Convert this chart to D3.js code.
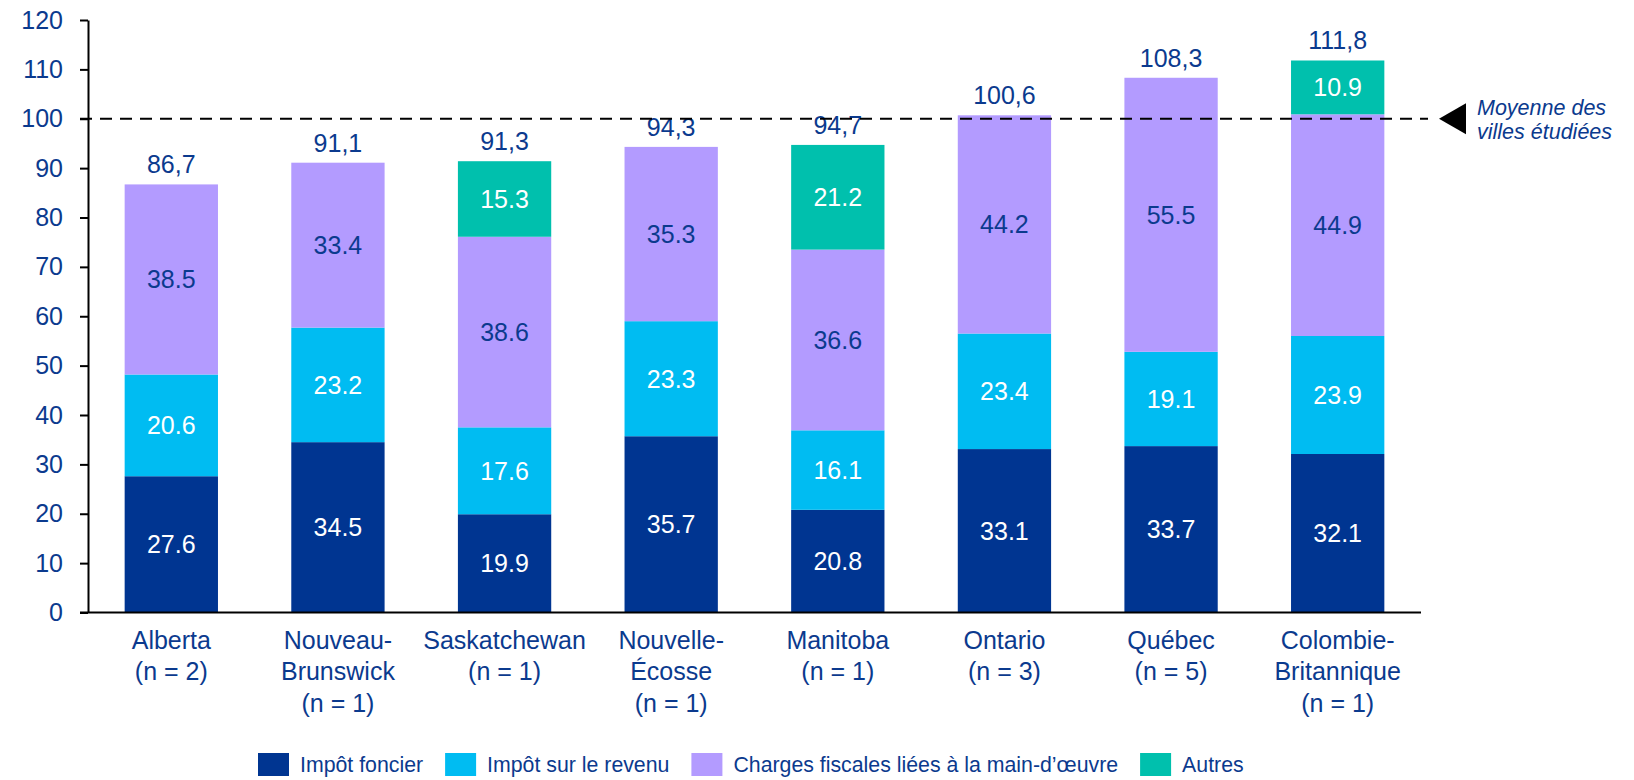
<!DOCTYPE html>
<html>
<head>
<meta charset="utf-8">
<script src="https://cdn.jsdelivr.net/npm/d3@7"></script>
<style>
  body { margin: 0; background: #fff; }
  svg text { font-family: "Liberation Sans", Arial, sans-serif; }
</style>
</head>
<body>
<div id="chart"></div>
<script>
// categories (one array per label line)
let provinces = [
    ["Alberta", "(n = 2)"],
    ["Nouveau-", "Brunswick", "(n = 1)"],
    ["Saskatchewan", "(n = 1)"],
    ["Nouvelle-", "Écosse", "(n = 1)"],
    ["Manitoba", "(n = 1)"],
    ["Ontario", "(n = 3)"],
    ["Québec", "(n = 5)"],
    ["Colombie-", "Britannique", "(n = 1)"]
];

// series values
let impotFoncier = [27.6, 34.5, 19.9, 35.7, 20.8, 33.1, 33.7, 32.1];
let impotRevenu = [20.6, 23.2, 17.6, 23.3, 16.1, 23.4, 19.1, 23.9];
let chargesMainOeuvre = [38.5, 33.4, 38.6, 35.3, 36.6, 44.2, 55.5, 44.9];
let autres = [0, 0, 15.3, 0, 21.2, 0, 0, 10.9];
let totalLabels = ["86,7", "91,1", "91,3", "94,3", "94,7", "100,6", "108,3", "111,8"];

let seriesNames = ["Impôt foncier", "Impôt sur le revenu", "Charges fiscales liées à la main-d\u2019œuvre", "Autres"];
let yTicks = [0, 10, 20, 30, 40, 50, 60, 70, 80, 90, 100, 110, 120];
let averageValue = 100;
let averageLabel = ["Moyenne des", "villes étudiées"];

// styles
let colors = ["#003591", "#00BCF2", "#B39BFF", "#00C0AD"];
let labelColors = ["#fff", "#fff", "#0B3A8E", "#fff"];
let textBlue = "#0B3A8E";

let width = 1634;
let height = 780;
let plotLeft = 88, plotRight = 1421, plotTop = 20, plotBottom = 612.5;

let svg = d3.select("#chart").append("svg")
    .attr("width", width)
    .attr("height", height);

let xScale = d3.scaleBand()
    .domain(d3.range(provinces.length))
    .range([plotLeft, plotRight])
    .paddingInner(0.44)
    .paddingOuter(0.22);

let yScale = d3.scaleLinear()
    .domain([0, 120])
    .range([plotBottom, plotTop]);

// stacked data
let rows = provinces.map((p, i) => ({
    i: i,
    s0: impotFoncier[i], s1: impotRevenu[i], s2: chargesMainOeuvre[i], s3: autres[i]
}));
let stack = d3.stack().keys(["s0", "s1", "s2", "s3"]);
let layers = stack(rows);

// bars
let groups = svg.selectAll("g.layer")
    .data(layers)
    .enter().append("g")
    .attr("class", "layer")
    .attr("fill", (d, k) => colors[k]);

groups.selectAll("rect")
    .data(d => d.filter(v => v[1] - v[0] > 0))
    .enter().append("rect")
    .attr("x", d => xScale(d.data.i))
    .attr("y", d => yScale(d[1]))
    .attr("width", xScale.bandwidth())
    .attr("height", d => yScale(d[0]) - yScale(d[1]));

// values inside bars
layers.forEach((layer, k) => {
    svg.append("g").selectAll("text")
        .data(layer.filter(v => v[1] - v[0] > 0))
        .enter().append("text")
        .attr("x", d => xScale(d.data.i) + xScale.bandwidth() / 2)
        .attr("y", d => yScale((d[0] + d[1]) / 2))
        .attr("dy", "0.36em")
        .attr("text-anchor", "middle")
        .attr("font-size", 25)
        .attr("fill", labelColors[k])
        .text(d => (d[1] - d[0]).toFixed(1));
});

// totals on top
svg.append("g").selectAll("text")
    .data(rows)
    .enter().append("text")
    .attr("x", d => xScale(d.i) + xScale.bandwidth() / 2)
    .attr("y", d => yScale(d.s0 + d.s1 + d.s2 + d.s3) - 11)
    .attr("text-anchor", "middle")
    .attr("font-size", 25)
    .attr("fill", textBlue)
    .text(d => totalLabels[d.i]);

// y axis
let yAxis = d3.axisLeft(yScale)
    .tickValues(yTicks)
    .tickSize(8)
    .tickPadding(17)
    .tickSizeOuter(0);
let yg = svg.append("g")
    .attr("transform", `translate(${plotLeft},0)`)
    .call(yAxis);
yg.select(".domain").attr("stroke", "#000").attr("stroke-width", 2);
yg.selectAll(".tick line").attr("stroke", "#000").attr("stroke-width", 2);
yg.selectAll(".tick text")
    .attr("font-size", 25)
    .attr("font-family", "Liberation Sans, Arial, sans-serif")
    .attr("fill", textBlue);

// x axis line
svg.append("line")
    .attr("x1", plotLeft - 8).attr("x2", plotRight)
    .attr("y1", yScale(0)).attr("y2", yScale(0))
    .attr("stroke", "#000").attr("stroke-width", 2);

// category labels
let cats = svg.append("g").selectAll("text")
    .data(provinces)
    .enter().append("text")
    .attr("x", (d, i) => xScale(i) + xScale.bandwidth() / 2)
    .attr("y", 649)
    .attr("text-anchor", "middle")
    .attr("font-size", 25)
    .attr("fill", textBlue);
cats.selectAll("tspan")
    .data(d => d)
    .enter().append("tspan")
    .attr("x", function() { return this.parentNode.getAttribute("x"); })
    .attr("dy", (d, j) => j === 0 ? 0 : 31.3)
    .text(d => d);

// average line
svg.append("line")
    .attr("x1", plotLeft - 8).attr("x2", 1428)
    .attr("y1", yScale(averageValue)).attr("y2", yScale(averageValue))
    .attr("stroke", "#000").attr("stroke-width", 2)
    .attr("stroke-dasharray", "12,8");

let ay = yScale(averageValue);
svg.append("path")
    .attr("d", `M1439,${ay} L1466,${ay - 15.5} L1466,${ay + 15.5} Z`)
    .attr("fill", "#000");

svg.append("g").selectAll("text")
    .data(averageLabel)
    .enter().append("text")
    .attr("x", 1477)
    .attr("y", (d, i) => ay - 4 + i * 24)
    .attr("font-size", 21.5)
    .attr("font-style", "italic")
    .attr("fill", textBlue)
    .text(d => d);

// legend
let legend = svg.append("g").attr("transform", "translate(258,753)");
let lx = 0;
seriesNames.forEach((name, k) => {
    let item = legend.append("g").attr("transform", `translate(${lx},0)`);
    item.append("rect")
        .attr("width", 31).attr("height", 23)
        .attr("fill", colors[k]);
    let t = item.append("text")
        .attr("x", 42).attr("y", 19)
        .attr("font-size", 21.3)
        .attr("fill", textBlue)
        .text(name);
    lx += 42 + t.node().getComputedTextLength() + 22;
});
</script>
</body>
</html>
